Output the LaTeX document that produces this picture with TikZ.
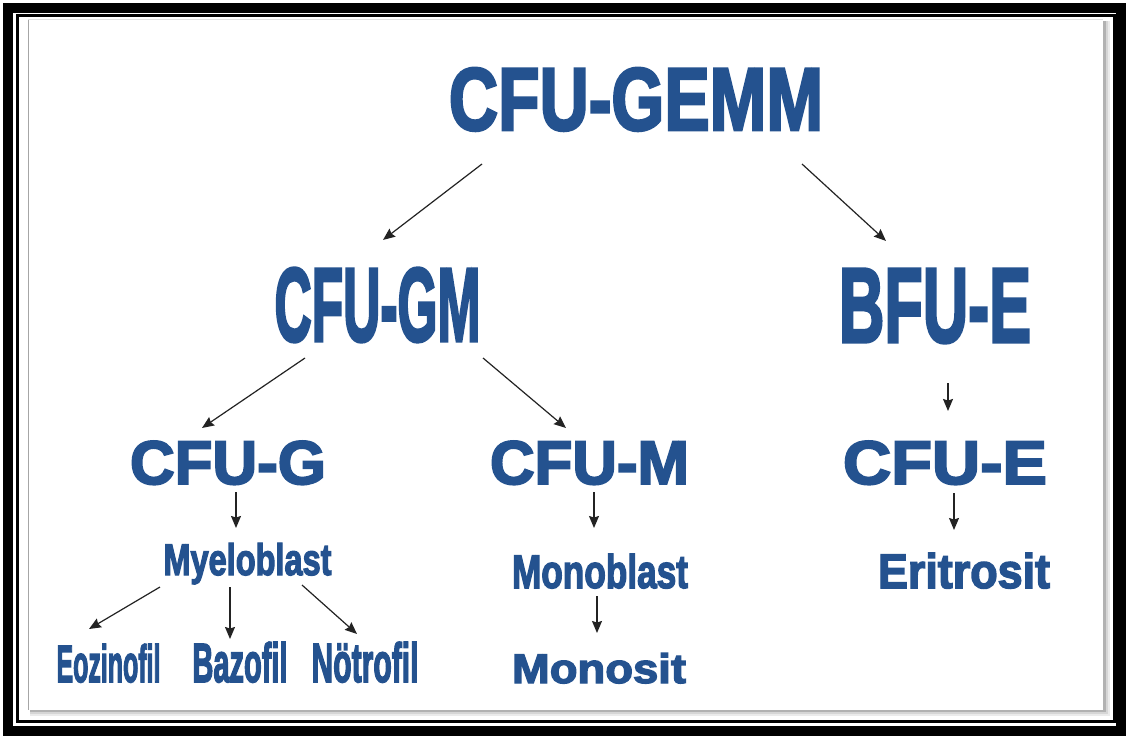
\documentclass[tikz,border=0pt]{standalone}
\usepackage{fontspec}
\setmainfont{Liberation Sans}
\newfontfamily\heavyfont{Liberation Sans}[BoldFeatures={FakeBold=3.2}]
\usetikzlibrary{arrows.meta}
\definecolor{txtblue}{RGB}{36,82,143}
\definecolor{arrowgray}{RGB}{35,35,35}
\newcommand{\fitt}[3]{\resizebox{#1pt}{#2pt}{\heavyfont\bfseries #3}}
\tikzset{
  tx/.style={text=txtblue, inner sep=0pt, outer sep=0pt, anchor=base},
  arr/.style={draw=arrowgray, line width=1.2pt, -{Stealth[length=12pt,width=10pt,inset=1.5pt]}},
}
\begin{document}
\begin{tikzpicture}[x=1pt,y=-1pt]
\useasboundingbox (0,0) rectangle (1126,738);
\fill[white] (0,0) rectangle (1126,738);
% frame
\draw[line width=10pt] (8,8) rectangle (1120.5,730.5);
\draw[line width=3pt] (17.5,15.5) rectangle (1114.3,721.5);
% panel shadow
\fill[black!8] (30,21) rectangle (1110,716);
\fill[black!16] (30,21) rectangle (1108,714);
\fill[black!30] (30,21) rectangle (1106,712);
\fill[white] (28,19) rectangle (1103,710);
\draw[black!35, line width=1pt] (28.5,19) -- (28.5,710);
\draw[black!12, line width=1.5pt] (28,19.5) -- (1103,19.5);

% nodes
\node[tx] (gemm)  at (636,130)   {\fitt{374}{62}{CFU-GEMM}};
\node[tx] (gm)    at (377.5,341) {\fitt{206}{73}{CFU-GM}};
\node[tx] (bfu)   at (935,342)   {\fitt{192}{73}{BFU-E}};
\node[tx] (cfug)  at (228,484)   {\fitt{196}{43}{CFU-G}};
\node[tx] (cfum)  at (589.5,484) {\fitt{199}{43}{CFU-M}};
\node[tx] (cfue)  at (945,484)   {\fitt{204}{43}{CFU-E}};
\node[tx] (myelo) at (247.5,575) {\fitt{168}{32}{Myeloblast}};
\node[tx] (monob) at (600,588)   {\fitt{176}{34}{Monoblast}};
\node[tx] (monos) at (599,683)   {\fitt{174}{30}{Monosit}};
\node[tx] (eritro) at (964,588)  {\fitt{172}{35}{Eritrosit}};
\node[tx] (eoz)   at (108.5,682) {\fitt{104}{38}{Eozinofil}};
\node[tx] (baz)   at (240,682)   {\fitt{95}{40}{Bazofil}};
\node[tx] (not)   at (365,682)   {\fitt{107}{40}{Nötrofil}};

% connectors
\draw[arr] ([shift={(-154,34)}]gemm.base) -- ([shift={(5.5,-28)}]gm.north);
\draw[arr] ([shift={(166,34)}]gemm.base) -- ([shift={(-49,-28)}]bfu.north);
\draw[arr] ([shift={(-72.5,17)}]gm.base) -- ([shift={(-26,-13)}]cfug.north);
\draw[arr] ([shift={(105.5,17)}]gm.base) -- ([shift={(-23.5,-13)}]cfum.north);
\draw[arr] ([shift={(13,41)}]bfu.base) -- ([shift={(3,-30)}]cfue.north);
\draw[arr] ([shift={(8,8)}]cfug.base) -- ([shift={(-11.5,-15)}]myelo.north);
\draw[arr] ([shift={(4.5,8)}]cfum.base) -- ([shift={(-6,-26)}]monob.north);
\draw[arr] ([shift={(9,9)}]cfue.base) -- ([shift={(-10,-23)}]eritro.north);
\draw[arr] ([shift={(-87.5,12)}]myelo.base) -- ([shift={(-19.5,-15)}]eoz.north);
\draw[arr] ([shift={(-17.5,12)}]myelo.base) -- ([shift={(-10,-3)}]baz.north);
\draw[arr] ([shift={(54.5,10)}]myelo.base) -- ([shift={(-8,-8)}]not.north);
\draw[arr] ([shift={(-3,8)}]monob.base) -- ([shift={(-2,-20)}]monos.north);
\end{tikzpicture}
\end{document}
